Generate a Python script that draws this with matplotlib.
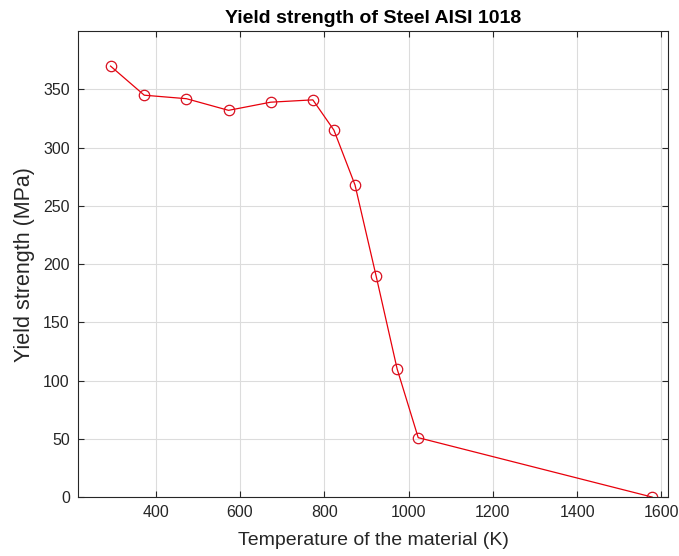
import matplotlib.pyplot as plt

# temperature (K) and yield strength (MPa)
temperature = [293, 373, 473, 573, 673, 773, 823, 873, 923, 973, 1023, 1578]
yield_strength = [370, 345, 342, 332, 339, 341, 315, 268, 190, 110, 51, 0]

x_ticks = [400, 600, 800, 1000, 1200, 1400, 1600]
y_ticks = [0, 50, 100, 150, 200, 250, 300, 350]

plt.rcParams['font.family'] = ['Liberation Sans', 'DejaVu Sans']

fig = plt.figure(figsize=(6.79, 5.56), dpi=100)
ax = fig.add_axes([0.115, 0.106, 0.869, 0.838])

ax.plot(temperature, yield_strength, color='#e8000b', linewidth=0.9,
        marker='o', markersize=7.5, markerfacecolor='none',
        markeredgecolor='#d81020', markeredgewidth=0.9)

ax.set_xlim(216, 1616)
ax.set_ylim(0, 400)
ax.set_xticks(x_ticks)
ax.set_yticks(y_ticks)

ax.grid(True, color='#dcdcdc', linewidth=0.8)
ax.set_axisbelow(True)

for s in ax.spines.values():
    s.set_color('#262626')
    s.set_linewidth(0.8)
ax.tick_params(direction='in', top=True, right=True, length=4,
               color='#262626', labelcolor='#262626', labelsize=11.5, pad=6)

ax.set_title('Yield strength of Steel AISI 1018', fontsize=14, fontweight='bold',
             color='black', pad=6)
ax.set_xlabel('Temperature of the material (K)', fontsize=14, color='#262626', labelpad=8)
ax.set_ylabel('Yield strength (MPa)', fontsize=15.5, color='#262626', labelpad=6)

fig.savefig('out.png', dpi=100)
